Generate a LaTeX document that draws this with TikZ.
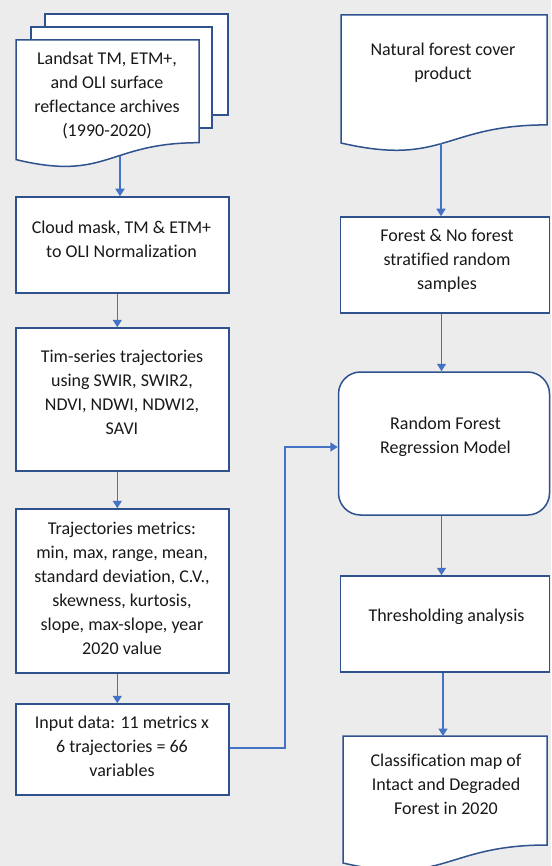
\documentclass[tikz,border=0pt]{standalone}
\usepackage{fontspec}
\setmainfont{Carlito}[Ligatures=NoCommon]
\usetikzlibrary{arrows.meta,calc}
\definecolor{bgc}{HTML}{ECECEC}
\definecolor{edgec}{HTML}{2F528F}
\definecolor{connc}{HTML}{4472C4}
\begin{document}
\begin{tikzpicture}[x=1pt,y=-1pt,
  shapebox/.style={draw=edgec,fill=white,line width=1.5pt,inner sep=0pt,rectangle},
  docline/.style={draw=edgec,fill=white,line width=1.5pt},
  txt/.style={inner sep=0pt,align=center,font=\fontsize{18}{24}\selectfont,text=black!90},
  conn/.style={draw=connc,line width=1.6pt,-{Triangle[width=9pt,length=7.5pt]}}]
% background
\fill[bgc] (0,0) rectangle (551,866);
\useasboundingbox (0,0) rectangle (551,866);

% ---------- left column ----------
% multi-document
\node[shapebox,minimum width=183pt,minimum height=101pt] (sheetc) at (136.5,64.5) {};
\node[shapebox,minimum width=181pt,minimum height=101pt] (sheetb) at (121.5,77.5) {};
\draw[docline] (16,40) -- (199,40) -- (199,142.7)
  .. controls (107.5,142.7) and (107.5,181.7) .. (16,159.6) -- cycle;
\node[txt] (tland) at (107,95.5) {Landsat TM, ETM+,\\and OLI surface\\reflectance archives\\(1990-2020)};
\coordinate (dland) at (120,156.5);

\node[shapebox,minimum width=213pt,minimum height=96pt] (cloud) at (122.5,245) {};
\node[txt] (tcloud) at (121.5,239) {Cloud mask, TM \& ETM+\\to OLI Normalization};

\node[shapebox,minimum width=213pt,minimum height=143pt] (tims) at (122.5,399.5) {};
\node[txt] (ttims) at (122,392.5) {Tim-series trajectories\\using SWIR, SWIR2,\\NDVI, NDWI, NDWI2,\\SAVI};

\node[shapebox,minimum width=213pt,minimum height=164pt] (traj) at (122.5,591) {};
\node[txt] (ttraj) at (122,588.5) {Trajectories metrics:\\min, max, range, mean,\\standard deviation, C.V.,\\skewness, kurtosis,\\slope, max-slope, year\\2020 value};

\node[shapebox,minimum width=213pt,minimum height=91pt] (inp) at (122.5,749.5) {};
\node[txt] (tinp) at (122,746.5) {Input data: 11 metrics x\\6 trajectories = 66\\variables};

% ---------- right column ----------
\draw[docline] (341,15) -- (547,15) -- (547,124.9)
  .. controls (444,124.9) and (444,166.7) .. (341,143) -- cycle;
\node[txt] (tnat) at (443,62.5) {Natural forest cover\\product};
\coordinate (dnat) at (441,142.8);

\node[shapebox,minimum width=209pt,minimum height=96pt] (forest) at (445,265) {};
\node[txt] (tforest) at (447,260.5) {Forest \& No forest\\stratified random\\samples};

\node[shapebox,rounded corners=22pt,minimum width=211pt,minimum height=143pt] (rfm) at (444,443.5) {};
\node[txt] (trfm) at (445.5,436.5) {Random Forest\\Regression Model};

\node[shapebox,minimum width=209pt,minimum height=96pt] (thr) at (445,624) {};
\node[txt] (tthr) at (446.5,617) {Thresholding analysis};

\draw[docline] (343,736) -- (547,736) -- (547,845)
  .. controls (445,845) and (445,886.5) .. (343,863) -- cycle;
\node[txt] (tcls) at (446,784) {Classification map of\\Intact and Degraded\\Forest in 2020};
\coordinate (dcls) at (443,736);

% ---------- connectors ----------
\coordinate (lx) at (117.3,0);
\coordinate (rx) at (441.5,0);
\draw[conn] (dland) -- (dland |- cloud.north);
\draw[conn] (cloud.south -| lx) -- (tims.north -| lx);
\draw[conn] (tims.south -| lx) -- (traj.north -| lx);
\draw[conn] (traj.south -| lx) -- (inp.north -| lx);
\draw[conn] (dnat) -- (dnat |- forest.north);
\draw[conn] (forest.south -| rx) -- (rfm.north -| rx);
\draw[conn] (rfm.south -| rx) -- (thr.north -| rx);
\draw[conn] (thr.south -| dcls) -- (dcls);
\draw[conn] ([yshift=1.5pt]inp.east) -- ++(55,0) |- ([yshift=-3.5pt]rfm.west);
\end{tikzpicture}
\end{document}
